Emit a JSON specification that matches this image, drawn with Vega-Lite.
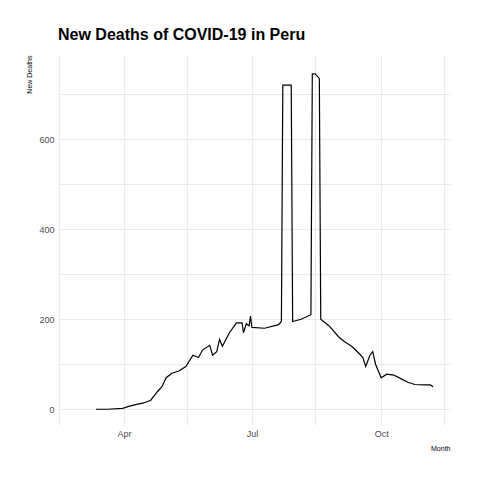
{
  "$schema": "https://vega.github.io/schema/vega-lite/v6.json",
  "width": 392,
  "height": 370,
  "autosize": "none",
  "padding": {"left": 58, "top": 55, "right": 30, "bottom": 55},
  "background": "white",
  "title": {
    "text": "New Deaths of COVID-19 in Peru",
    "anchor": "start",
    "frame": "group",
    "font": "Liberation Sans",
    "fontSize": 16,
    "fontWeight": "bold",
    "color": "black",
    "offset": 12
  },
  "config": {
    "view": {"stroke": null},
    "axis": {
      "domain": false,
      "ticks": false,
      "gridColor": "#e6e6e6",
      "gridWidth": 0.8,
      "labelColor": "#4d4d4d",
      "labelFont": "Liberation Sans",
      "labelFontSize": 9,
      "titleFont": "Liberation Sans",
      "titleFontSize": 7,
      "titleFontWeight": "normal",
      "titleColor": "black"
    }
  },
  "data": {
    "values": [
      {"date": "2020-03-12", "deaths": 0},
      {"date": "2020-03-20", "deaths": 0},
      {"date": "2020-03-31", "deaths": 2},
      {"date": "2020-04-05", "deaths": 7},
      {"date": "2020-04-10", "deaths": 11},
      {"date": "2020-04-15", "deaths": 14},
      {"date": "2020-04-20", "deaths": 20},
      {"date": "2020-04-25", "deaths": 40},
      {"date": "2020-04-28", "deaths": 50},
      {"date": "2020-05-01", "deaths": 70},
      {"date": "2020-05-05", "deaths": 80},
      {"date": "2020-05-10", "deaths": 85},
      {"date": "2020-05-15", "deaths": 95},
      {"date": "2020-05-20", "deaths": 120},
      {"date": "2020-05-24", "deaths": 115},
      {"date": "2020-05-27", "deaths": 132},
      {"date": "2020-06-01", "deaths": 142},
      {"date": "2020-06-03", "deaths": 120},
      {"date": "2020-06-06", "deaths": 128},
      {"date": "2020-06-08", "deaths": 155},
      {"date": "2020-06-10", "deaths": 140},
      {"date": "2020-06-15", "deaths": 170},
      {"date": "2020-06-20", "deaths": 192},
      {"date": "2020-06-24", "deaths": 192},
      {"date": "2020-06-25", "deaths": 170},
      {"date": "2020-06-27", "deaths": 190},
      {"date": "2020-06-29", "deaths": 185},
      {"date": "2020-06-30", "deaths": 207},
      {"date": "2020-07-01", "deaths": 182},
      {"date": "2020-07-10", "deaths": 180},
      {"date": "2020-07-20", "deaths": 188},
      {"date": "2020-07-22", "deaths": 195},
      {"date": "2020-07-23", "deaths": 720},
      {"date": "2020-07-29", "deaths": 720},
      {"date": "2020-07-30", "deaths": 195},
      {"date": "2020-08-05", "deaths": 200},
      {"date": "2020-08-12", "deaths": 210},
      {"date": "2020-08-13", "deaths": 745},
      {"date": "2020-08-15", "deaths": 745},
      {"date": "2020-08-18", "deaths": 735},
      {"date": "2020-08-19", "deaths": 200},
      {"date": "2020-08-25", "deaths": 185},
      {"date": "2020-09-01", "deaths": 160},
      {"date": "2020-09-05", "deaths": 150},
      {"date": "2020-09-10", "deaths": 140},
      {"date": "2020-09-15", "deaths": 125},
      {"date": "2020-09-18", "deaths": 115},
      {"date": "2020-09-20", "deaths": 95},
      {"date": "2020-09-23", "deaths": 120},
      {"date": "2020-09-25", "deaths": 128},
      {"date": "2020-09-27", "deaths": 100},
      {"date": "2020-10-01", "deaths": 70},
      {"date": "2020-10-05", "deaths": 78},
      {"date": "2020-10-10", "deaths": 76},
      {"date": "2020-10-15", "deaths": 68},
      {"date": "2020-10-20", "deaths": 60},
      {"date": "2020-10-25", "deaths": 55},
      {"date": "2020-11-01", "deaths": 54},
      {"date": "2020-11-05", "deaths": 54},
      {"date": "2020-11-07", "deaths": 50}
    ]
  },
  "mark": {"type": "line", "color": "black", "strokeWidth": 1.2, "interpolate": "linear"},
  "encoding": {
    "x": {
      "field": "date",
      "type": "temporal",
      "title": "Month",
      "scale": {"domain": ["2020-02-14", "2020-11-19"]},
      "axis": {
        "values": ["2020-02-15", "2020-04-01", "2020-05-16", "2020-07-01", "2020-08-15", "2020-10-01", "2020-11-15"],
        "labelExpr": "month(datum.value) == 3 ? 'Apr' : month(datum.value) == 6 ? 'Jul' : month(datum.value) == 9 ? 'Oct' : ''",
        "labelPadding": 4,
        "titleAnchor": "end",
        "titleAlign": "right",
        "titlePadding": 6
      }
    },
    "y": {
      "field": "deaths",
      "type": "quantitative",
      "title": "New Deaths",
      "scale": {"domain": [-35, 787], "nice": false, "zero": false},
      "axis": {
        "values": [0, 100, 200, 300, 400, 500, 600, 700],
        "labelExpr": "datum.value % 200 == 0 ? datum.label : ''",
        "labelPadding": 4,
        "titleAnchor": "end",
        "titlePadding": 6
      }
    }
  }
}
